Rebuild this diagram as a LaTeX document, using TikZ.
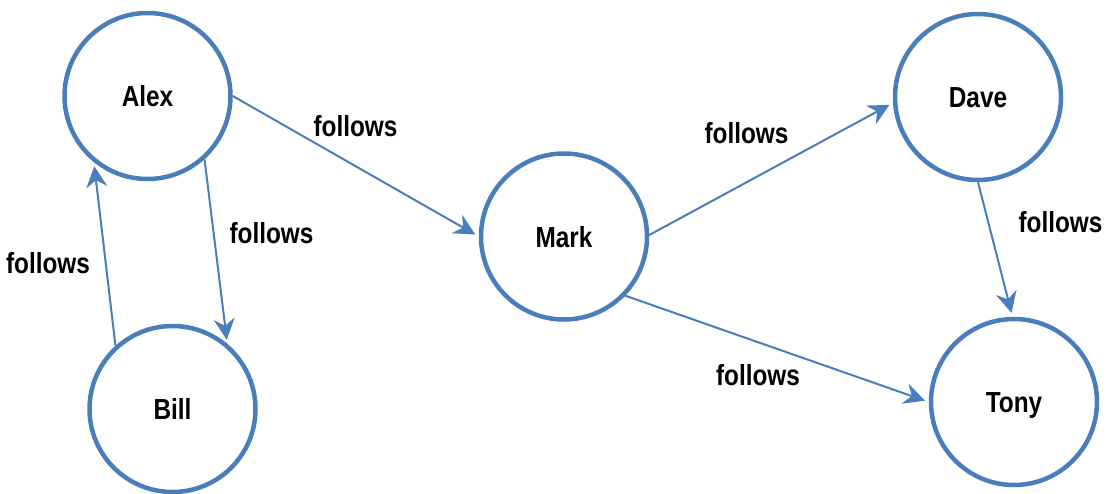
\documentclass[tikz,border=0pt]{standalone}
\usepackage{fontspec}
\newfontfamily\lblfont[FakeStretch=0.84]{Liberation Sans Bold}
\usetikzlibrary{arrows.meta}
\definecolor{nodeblue}{HTML}{4A7EBB}
\begin{document}
\begin{tikzpicture}[x=1pt,y=-1pt,
  person/.style={circle, draw=nodeblue, line width=4.5pt, minimum size=166pt, inner sep=0pt,
    font=\lblfont\fontsize{29}{29}\selectfont, text height=21pt, text depth=0pt},
  rel/.style={draw=nodeblue, line width=2pt, -{Stealth[length=21pt,width=21pt,inset=7pt]}, shorten >=4pt},
  lbl/.style={anchor=base, inner sep=0pt, font=\lblfont\fontsize{29}{29}\selectfont}
]
\useasboundingbox (0,0) rectangle (1114,493);
\node[person] (alex) at (147.5,96) {Alex};
\node[person] (bill) at (172.5,409) {Bill};
\node[person] (mark) at (564,236.5) {Mark};
\node[person] (dave) at (978,97) {Dave};
\node[person] (tony) at (1014,402) {Tony};

\draw[rel] (alex.-48) -- (bill.50);
\draw[rel] (bill.132) -- (alex.-129);
\draw[rel] (alex.0) -- (mark.180);
\draw[rel] (mark.1) -- (dave.184);
\draw[rel] (mark.-44.5) -- (tony.180);
\draw[rel] (dave.-90) -- (tony.91);

\node[lbl] (l1) at (355.5,136) {follows};
\node[lbl] (l2) at (271.5,243) {follows};
\node[lbl] (l3) at (48,273) {follows};
\node[lbl] (l4) at (746.5,143) {follows};
\node[lbl] (l5) at (758,385) {follows};
\node[lbl] (l6) at (1060.5,232) {follows};
\end{tikzpicture}
\end{document}
